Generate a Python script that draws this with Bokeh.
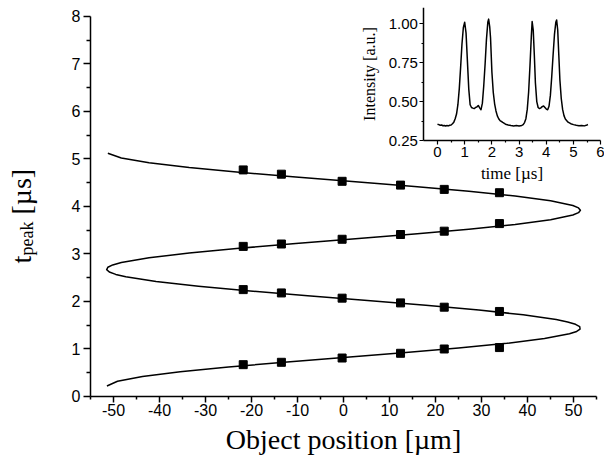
from math import pi
from bokeh.plotting import figure
from bokeh.models import Range1d, FixedTicker, Label, NumeralTickFormatter, LinearAxis
from bokeh.embed import file_html
from bokeh.resources import INLINE

# ---- main panel data ----
curve_t = [0.22, 0.32, 0.42, 0.52, 0.62, 0.72, 0.82, 0.92, 1.02, 1.12,
           1.22, 1.32, 1.37, 1.42, 1.47, 1.52, 1.57, 1.62, 1.72, 1.82, 1.92, 2.02, 2.12,
           2.22, 2.32, 2.42, 2.52, 2.57, 2.62, 2.67, 2.72, 2.77, 2.82, 2.92, 3.02, 3.12,
           3.22, 3.32, 3.42, 3.52, 3.62, 3.72, 3.82, 3.87, 3.92, 3.97, 4.02, 4.12,
           4.22, 4.32, 4.42, 4.52, 4.62, 4.72, 4.82, 4.92, 5.02, 5.12]
curve_x = [-51.43, -49.13, -43.70, -35.49, -25.00, -12.91, 0.00, 12.91, 25.00, 35.49,
           43.70, 49.13, 50.69, 51.43, 51.35, 50.44, 48.73, 46.24, 39.06, 29.42, 17.89, 5.21, -7.79,
           -20.31, -31.52, -40.74, -47.33, -49.51, -50.91, -51.48, -51.23, -50.17, -48.30, -42.27, -33.54, -22.68,
           -10.37, 2.60, 15.42, 27.25, 37.31, 45.02, 49.86, 51.09, 51.50, 51.09, 49.86, 45.02,
           37.31, 27.25, 15.42, 2.60, -10.37, -22.68, -33.54, -42.27, -48.30, -51.23]

pos_x = [-21.8, -13.5, -0.3, 12.4, 21.9, 33.9]
peak1 = [0.67, 0.72, 0.81, 0.91, 1.00, 1.03]
peak2 = [2.25, 2.18, 2.07, 1.97, 1.88, 1.79]
peak3 = [3.16, 3.21, 3.31, 3.41, 3.48, 3.64]
peak4 = [4.77, 4.68, 4.53, 4.45, 4.36, 4.29]

x_major = [-50, -40, -30, -20, -10, 0, 10, 20, 30, 40, 50]
x_minor = [-55, -45, -35, -25, -15, -5, 5, 15, 25, 35, 45, 55]
y_major = [0, 1, 2, 3, 4, 5, 6, 7, 8]
y_minor = [0.5, 1.5, 2.5, 3.5, 4.5, 5.5, 6.5, 7.5]

# ---- inset data ----
time_us = [0.00, 0.05, 0.10, 0.15, 0.20, 0.25, 0.30, 0.35, 0.40, 0.45,
           0.50, 0.55, 0.60, 0.65, 0.70, 0.75, 0.80, 0.85, 0.90, 0.95,
           1.00, 1.05, 1.10, 1.15, 1.20, 1.25, 1.30, 1.35, 1.40, 1.45,
           1.50, 1.55, 1.60, 1.65, 1.70, 1.75, 1.80, 1.85, 1.88, 1.92,
           1.95, 2.00, 2.05, 2.10, 2.15, 2.20, 2.25, 2.30, 2.40, 2.50,
           2.60, 2.70, 2.80, 2.90, 3.00, 3.10, 3.15, 3.20, 3.25, 3.30,
           3.35, 3.40, 3.45, 3.48, 3.52, 3.56, 3.60, 3.65, 3.70, 3.75,
           3.80, 3.85, 3.90, 3.95, 4.00, 4.05, 4.10, 4.15, 4.20, 4.25,
           4.30, 4.35, 4.38, 4.42, 4.46, 4.50, 4.55, 4.60, 4.65, 4.70,
           4.80, 4.90, 5.00, 5.10, 5.20, 5.30, 5.40, 5.50, 5.53]
intensity = [0.355, 0.352, 0.348, 0.350, 0.345, 0.347, 0.343, 0.346, 0.344, 0.348,
             0.350, 0.358, 0.368, 0.390, 0.420, 0.480, 0.580, 0.720, 0.870, 0.975,
             1.010, 0.940, 0.760, 0.580, 0.480, 0.462, 0.458, 0.455, 0.462, 0.466,
             0.475, 0.460, 0.448, 0.490, 0.600, 0.740, 0.900, 1.010, 1.030, 0.980,
             0.910, 0.690, 0.560, 0.486, 0.440, 0.408, 0.390, 0.378, 0.366, 0.355,
             0.350, 0.346, 0.344, 0.346, 0.343, 0.347, 0.352, 0.365, 0.390, 0.450,
             0.560, 0.730, 0.920, 1.015, 0.960, 0.800, 0.620, 0.500, 0.462, 0.455,
             0.460, 0.468, 0.472, 0.462, 0.452, 0.448, 0.470, 0.540, 0.660, 0.800,
             0.930, 1.010, 1.025, 0.960, 0.800, 0.640, 0.520, 0.450, 0.410, 0.388,
             0.368, 0.358, 0.352, 0.348, 0.345, 0.347, 0.344, 0.350, 0.353]

in_x_major = [0, 1, 2, 3, 4, 5, 6]
in_x_minor = [0.5, 1.5, 2.5, 3.5, 4.5, 5.5]
in_y_major = [0.25, 0.50, 0.75, 1.00]
in_y_minor = [0.375, 0.625, 0.875]

SANS = "Liberation Sans"
SERIF = "Liberation Serif"

# ---- one figure; axes at fixed locations, inset on extra ranges ----
p = figure(width=604, height=471, output_backend="svg", toolbar_location=None,
           x_range=Range1d(-74.565, 56.739), y_range=Range1d(-1.579, 8.189),
           min_border_left=0, min_border_right=0, min_border_top=7, min_border_bottom=0)
p.title.visible = False
p.outline_line_color = None
p.grid.visible = False
p.background_fill_color = "white"
p.extra_x_ranges = {"ix": Range1d(-16.066, 6.140)}
p.extra_y_ranges = {"iy": Range1d(-1.8772, 1.1048)}

p.line(curve_x, curve_t, line_color="black", line_width=1.5, line_join="round")
for tt in (peak1, peak2, peak3, peak4):
    p.scatter(pos_x, tt, marker="square", size=8, fill_color="black", line_color="black")
p.line(time_us, intensity, x_range_name="ix", y_range_name="iy",
       line_color="black", line_width=1.5, line_join="round")

xa = p.xaxis[0]
xa.fixed_location = 0
xa.bounds = (-55, 55)
xa.ticker = FixedTicker(ticks=x_major, minor_ticks=x_minor)
xa.major_label_overrides = {v: str(v) for v in x_major}
xa.axis_label = "Object position [µm]"
xa.axis_label_text_font = SERIF
xa.axis_label_text_font_size = "28px"
xa.axis_label_text_font_style = "normal"
xa.axis_label_text_color = "black"
xa.axis_label_standoff = 4

ya = p.yaxis[0]
ya.fixed_location = -55
ya.bounds = (0, 8)
ya.ticker = FixedTicker(ticks=y_major, minor_ticks=y_minor)
ya.axis_label = None

for ax in (xa, ya):
    ax.axis_line_width = 1.5
    ax.axis_line_color = "black"
    ax.major_tick_in = 0
    ax.minor_tick_in = 0
    ax.major_tick_line_width = 1.5
    ax.minor_tick_line_width = 1.5
    ax.major_tick_line_color = "black"
    ax.minor_tick_line_color = "black"
    ax.major_label_text_font = SANS
    ax.major_label_text_font_size = "16px"
    ax.major_label_text_color = "black"
xa.major_tick_out = 6
xa.minor_tick_out = 3
xa.major_label_standoff = 2
ya.major_tick_out = 7
ya.minor_tick_out = 4
ya.major_label_standoff = 3

# y-axis title built from pieces: t, subscript "peak", [µs]
for txt, xs, ys, fs in (("t", -70.0, 2.80, "28px"), ("peak", -68.7, 2.97, "18px"),
                        ("[µs]", -70.0, 3.83, "28px")):
    p.add_layout(Label(x=xs, y=ys, text=txt,
                       angle=pi / 2, text_font=SERIF, text_font_size=fs,
                       text_color="black", text_align="left", text_baseline="alphabetic"))

# ---- inset axes ----
qx = LinearAxis(x_range_name="ix", y_range_name="iy", fixed_location=0.25, bounds=(-0.5, 6),
                ticker=FixedTicker(ticks=in_x_major, minor_ticks=in_x_minor),
                axis_label="time [µs]")
qy = LinearAxis(x_range_name="ix", y_range_name="iy", fixed_location=-0.5, bounds=(0.25, 1.1048),
                ticker=FixedTicker(ticks=in_y_major, minor_ticks=in_y_minor),
                formatter=NumeralTickFormatter(format="0.00"),
                axis_label="Intensity [a.u.]")
qx.axis_label_text_font_size = "17px"
qy.axis_label_text_font_size = "16px"
for ax in (qx, qy):
    ax.axis_line_width = 1.5
    ax.axis_line_color = "black"
    ax.major_tick_in = 0
    ax.minor_tick_in = 0
    ax.major_tick_out = 4
    ax.minor_tick_out = 2
    ax.major_tick_line_width = 1.2
    ax.minor_tick_line_width = 1.2
    ax.major_tick_line_color = "black"
    ax.minor_tick_line_color = "black"
    ax.major_label_text_font = SANS
    ax.major_label_text_font_size = "15px"
    ax.major_label_text_color = "black"
    ax.major_label_standoff = 2
    ax.axis_label_text_font = SERIF
    ax.axis_label_text_font_style = "normal"
    ax.axis_label_text_color = "black"
qx.axis_label_standoff = 4
qy.axis_label_standoff = 7
p.add_layout(qx, "below")
p.add_layout(qy, "left")

open("out.html", "w").write(file_html(p, INLINE))
